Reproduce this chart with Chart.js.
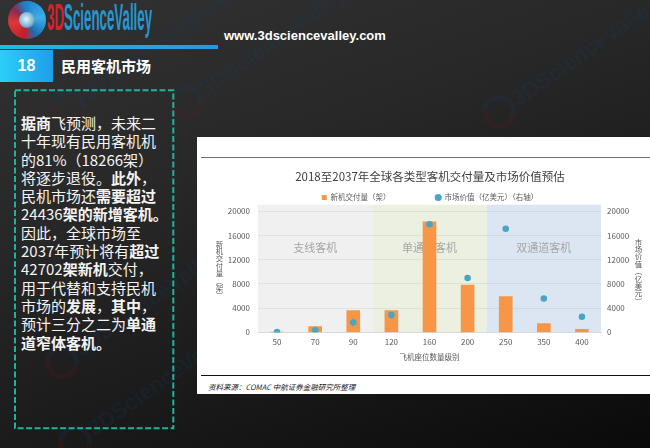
<!DOCTYPE html>
<html><head><meta charset="utf-8">
<script src="https://cdn.jsdelivr.net/npm/chart.js@4.4.1/dist/chart.umd.min.js"></script>
<style>
html,body{margin:0;padding:0;}
body{width:650px;height:448px;overflow:hidden;position:relative;background:linear-gradient(160deg,#323232 0%,#282828 35%,#191919 70%,#0a0a0a 100%);font-family:"Noto Sans CJK SC",sans-serif;}
.abs{position:absolute;}
.wm{position:absolute;width:160px;height:34px;transform-origin:17px 17px;transform:rotate(-35deg);opacity:0.16;}
.wm .c{position:absolute;left:0;top:0;width:24px;height:24px;border-radius:50%;border:5px solid;border-color:#14406e #14406e #7a1219 #7a1219;}
.wm .t{position:absolute;left:36px;top:2px;font-family:"Liberation Sans",Arial,sans-serif;font-weight:bold;font-size:22px;line-height:30px;color:#14406e;white-space:nowrap;}
#logoCircle{left:8px;top:1px;width:38px;height:38px;border-radius:50%;background:conic-gradient(from 190deg,#c41e2a 0deg,#e0363c 70deg,#8a2a4e 120deg,#1d7fc6 160deg,#3bb0ea 250deg,#1a6db3 320deg,#c41e2a 360deg);}
#logoHole{left:19px;top:12px;width:16px;height:16px;border-radius:50%;background:radial-gradient(circle at 45% 45%,#e8f4fb 0%,#7fb6d8 55%,#234a70 100%);}
#logoText{left:47px;top:-4px;font-family:"Liberation Sans",Arial,sans-serif;font-weight:bold;font-size:36px;line-height:44px;transform-origin:0 0;white-space:nowrap;}
#logoText .r{color:#d3232b;} #logoText .b{color:#2596d1;}
#url{left:224px;top:27px;color:#fff;font-family:"Liberation Sans",Arial,sans-serif;font-weight:bold;font-size:13px;line-height:18px;white-space:nowrap;}
#bar{left:0;top:45px;width:218px;height:4px;background:linear-gradient(90deg,#22b8f0,#1e9be3);}
#numBox{left:0;top:50px;width:53px;height:32px;background:linear-gradient(90deg,#2bcff7,#1f9ee8);color:#fff;font-family:"Liberation Sans",Arial,sans-serif;font-weight:bold;font-size:16px;line-height:32px;text-align:center;}
#secTitle{left:61px;top:55px;color:#fff;font-weight:bold;font-size:15px;line-height:22px;white-space:nowrap;}
#para{left:21px;top:114px;color:#f4f4f4;font-size:15px;line-height:18.3px;white-space:nowrap;}
#para b{font-weight:bold;}
#panel{left:197px;top:137px;width:460px;height:257px;background:#fff;}
#grayLine{left:201px;top:157px;width:460px;height:1px;background:#707070;}
#blackLine{left:201px;top:375px;width:460px;height:1px;background:#111;}
#source{left:208px;top:381px;font-size:7.5px;line-height:12px;font-style:italic;color:#222;white-space:nowrap;}
#chartWrap{left:197px;top:160px;width:466px;height:215px;}
.vt{writing-mode:vertical-rl;text-orientation:upright;font-size:7.4px;line-height:8px;color:#595959;}
#yTitleL{left:215px;top:240px;}
#yTitleR{left:634px;top:238px;}
</style></head>
<body>
<div class="wm" style="left:170px;top:85px"><div class="c"></div><div class="t">3DScienceValley</div></div>
<div class="wm" style="left:482px;top:95px"><div class="c"></div><div class="t">3DScienceValley</div></div>
<div class="wm" style="left:45px;top:345px"><div class="c"></div><div class="t">3DScienceValley</div></div>
<div class="wm" style="left:58px;top:425px"><div class="c"></div><div class="t">3DScienceValley</div></div>
<div class="wm" style="left:52px;top:90px"><div class="c"></div><div class="t">3DScienceValley</div></div>
<div id="logoCircle" class="abs"></div>
<div id="logoHole" class="abs"></div>
<div id="logoText" class="abs"><span class="r">3D</span><span class="b">ScienceValley</span></div>
<div id="url" class="abs">www.3dsciencevalley.com</div>
<div id="bar" class="abs"></div>
<div id="numBox" class="abs">18</div>
<div id="secTitle" class="abs">民用客机市场</div>
<svg class="abs" style="left:13px;top:88px" width="163" height="343"><rect x="2" y="2.3" width="158.3" height="338" fill="none" stroke="#1fb39b" stroke-width="2" stroke-dasharray="6 2.5"/></svg>
<div id="para" class="abs"><b>据商</b>飞预测，未来二<br>十年现有民用客机机<br>的81%（18266架）<br>将逐步退役。<b>此外</b>，<br>民机市场还<b>需要超过</b><br>24436<b>架的新增客机。</b><br>因此，全球市场至<br>2037年预计将有<b>超过</b><br>42702<b>架新机</b>交付，<br>用于代替和支持民机<br>市场的<b>发展</b>，<b>其中</b>，<br>预计三分之二为<b>单通</b><br><b>道窄体客机。</b></div>
<div id="panel" class="abs"></div>
<div id="grayLine" class="abs"></div>
<div id="blackLine" class="abs"></div>
<div id="source" class="abs">资料来源：COMAC 中航证券金融研究所整理</div>
<div id="chartWrap" class="abs"><canvas id="c" width="466" height="215"></canvas></div>
<div id="yTitleL" class="abs vt">新机交付量（架）</div>
<div id="yTitleR" class="abs vt">市场价值（亿美元）</div>
<script>
// ---- data ----
const categories = ['50','70','90','120','160','200','250','350','400'];
const deliveries = [60, 960, 3590, 3590, 18250, 7800, 5900, 1460, 510];
const marketValue = [50, 340, 1630, 2860, 17860, 8980, 17130, 5610, 2580];
const seriesNames = ['新机交付量（架）', '市场价值（亿美元）（右轴）'];
const chartTitle = '2018至2037年全球各类型客机交付量及市场价值预估';
const xAxisTitle = '飞机座位数量级别';
const axisMin = 0, axisMax = 20000, axisStep = 4000;
const bandNames = ['支线客机', '单通道客机', '双通道客机'];
const bandFirst = [0, 3, 6];
const bandLast = [2, 5, 8];
const bandTopValue = 21100;
const bandLabelValue = 14000;
// ---- styles ----
const bandColors = ['#f0f0f0', '#ebf0e1', '#dce6f2'];
const barColor = '#f79646';
const dotColor = '#46a6c4';

// logo text width fit
const lt = document.getElementById('logoText');
lt.style.transform = 'scaleX(' + (105 / lt.offsetWidth) + ')';

Chart.defaults.font.family = '"Noto Sans CJK SC", sans-serif';
Chart.defaults.color = '#595959';

const bandPlugin = {
  id: 'bands',
  beforeDraw(chart) {
    const {ctx, scales: {x, y}} = chart;
    const half = x.width / categories.length / 2;
    ctx.save();
    bandNames.forEach((n, i) => {
      const l = x.getPixelForValue(bandFirst[i]) - half;
      const r = x.getPixelForValue(bandLast[i]) + half;
      const t = y.getPixelForValue(bandTopValue);
      ctx.fillStyle = bandColors[i];
      ctx.fillRect(l, t, r - l, y.getPixelForValue(0) - t);
    });
    ctx.restore();
  },
  beforeDatasetsDraw(chart) {
    const {ctx, scales: {x, y}} = chart;
    ctx.save();
    ctx.font = '11px "Noto Sans CJK SC", sans-serif';
    ctx.fillStyle = '#a6a6a6';
    ctx.textAlign = 'center';
    ctx.textBaseline = 'middle';
    bandNames.forEach((n, i) => {
      const cx = (x.getPixelForValue(bandFirst[i]) + x.getPixelForValue(bandLast[i])) / 2;
      ctx.fillText(n, cx, y.getPixelForValue(bandLabelValue));
    });
    ctx.restore();
  }
};

const plainTick = v => String(v);

new Chart(document.getElementById('c'), {
  type: 'bar',
  data: {
    labels: categories,
    datasets: [
      {label: seriesNames[0], data: deliveries, backgroundColor: barColor, barThickness: 13, yAxisID: 'y', order: 1, pointStyle: 'rect'},
      {type: 'line', label: seriesNames[1], data: marketValue, yAxisID: 'y1', showLine: false, order: 0,
       pointRadius: 3.3, pointHoverRadius: 3.3, pointBackgroundColor: dotColor, pointBorderWidth: 0, borderColor: dotColor, backgroundColor: dotColor, pointStyle: 'circle'}
    ]
  },
  options: {
    responsive: false,
    animation: false,
    layout: {padding: {left: 0, right: 0, top: 0, bottom: 13}},
    plugins: {
      title: {display: true, text: chartTitle, color: '#404040', font: {size: 11.5, weight: 'normal'}, padding: {top: 10, bottom: 6}},
      legend: {
        display: true,
        labels: {
          usePointStyle: true, boxWidth: 5, boxHeight: 5, padding: 4, font: {size: 7.5}, color: '#595959',
          generateLabels(chart) {
            const items = Chart.defaults.plugins.legend.labels.generateLabels(chart);
            items.sort((a, b) => a.datasetIndex - b.datasetIndex);
            items.forEach(it => { if (it.datasetIndex === 0) it.text = it.text + '\u3000\u3000\u3000\u3000\u3000\u3000'; });
            return items;
          }
        }
      },
      tooltip: {enabled: false}
    },
    scales: {
      x: {
        grid: {display: false, drawTicks: false},
        border: {color: '#d9d9d9'},
        ticks: {padding: 5, font: {size: 8}, color: '#595959'},
        title: {display: true, text: xAxisTitle, font: {size: 7.5}, color: '#595959', padding: {top: 1, bottom: 0}}
      },
      y: {
        position: 'left', min: axisMin, max: axisMax,
        ticks: {stepSize: axisStep, padding: 8, font: {size: 8}, color: '#595959', callback: plainTick},
        grid: {color: 'rgba(0,0,0,0.07)', lineWidth: 0.8, drawTicks: false},
        border: {display: false},
        afterFit(s) { s.width = 61; }
      },
      y1: {
        position: 'right', min: axisMin, max: axisMax,
        ticks: {stepSize: axisStep, padding: 6, font: {size: 8}, color: '#595959', callback: plainTick},
        grid: {display: false, drawTicks: false},
        border: {display: false},
        afterFit(s) { s.width = 62; }
      }
    }
  },
  plugins: [bandPlugin]
});
</script>
</body></html>
